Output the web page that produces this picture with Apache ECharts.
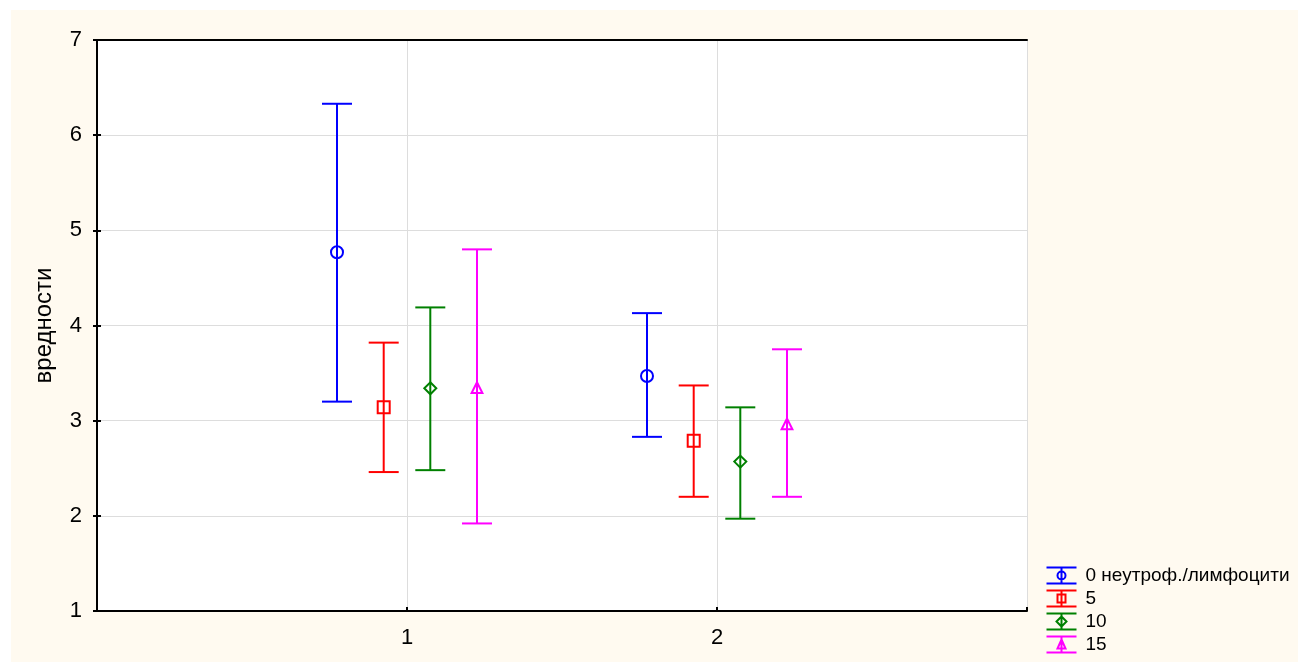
<!DOCTYPE html>
<html>
<head>
<meta charset="utf-8">
<title>вредности</title>
<script src="https://cdn.jsdelivr.net/npm/echarts@6/dist/echarts.min.js"></script>
<style>
  html, body { margin: 0; padding: 0; background: #ffffff; }
  #chart { position: absolute; left: 11px; top: 10px; width: 1287px; height: 652px; }
</style>
</head>
<body>
<div id="chart"></div>
<script>
// Groups on the horizontal axis
const groups = [1, 2];
const groupLabels = ['1', '2'];

// Series names (legend)
const seriesNames = ['0 неутроф./лимфоцити', '5', '10', '15'];

// Means and interval bounds per group, one set of arrays per series
const mean0  = [4.77, 3.47];
const low0   = [3.20, 2.83];
const high0  = [6.33, 4.13];

const mean5  = [3.14, 2.79];
const low5   = [2.46, 2.20];
const high5  = [3.82, 3.37];

const mean10 = [3.34, 2.57];
const low10  = [2.48, 1.97];
const high10 = [4.19, 3.14];

const mean15 = [3.34, 2.96];
const low15  = [1.92, 2.20];
const high15 = [4.80, 3.75];

const yTicks = [1, 2, 3, 4, 5, 6, 7];

// Styling per series: colour, marker shape, horizontal pixel offset from the group position
const colors  = ['#0000ff', '#ff0000', '#008000', '#ff00ff'];
const markers = ['circle', 'square', 'diamond', 'triangle'];
const offsets = [-70, -23.3, 23.3, 70];

const seriesData = [
  [mean0, low0, high0],
  [mean5, low5, high5],
  [mean10, low10, high10],
  [mean15, low15, high15]
];

function markerShape(kind, x, y, r, color) {
  const style = { stroke: color, fill: 'none', lineWidth: 2 };
  if (kind === 'circle') {
    return { type: 'circle', shape: { cx: x, cy: y, r: r }, style: style };
  }
  if (kind === 'square') {
    return { type: 'rect', shape: { x: x - r, y: y - r, width: 2 * r, height: 2 * r }, style: style };
  }
  if (kind === 'diamond') {
    return { type: 'polygon', shape: { points: [[x, y - r], [x + r, y], [x, y + r], [x - r, y]] }, style: style };
  }
  return { type: 'polygon', shape: { points: [[x, y - r], [x + r * 0.9, y + r * 0.8], [x - r * 0.9, y + r * 0.8]] }, style: style };
}

function makeRenderer(idx) {
  const color = colors[idx];
  const offset = offsets[idx];
  const kind = markers[idx];
  return function (params, api) {
    const x = api.coord([api.value(0), api.value(1)])[0] + offset;
    const yMean = api.coord([api.value(0), api.value(1)])[1];
    const yLow = api.coord([api.value(0), api.value(2)])[1];
    const yHigh = api.coord([api.value(0), api.value(3)])[1];
    const cap = 15;
    const ls = { stroke: color, lineWidth: 2 };
    return {
      type: 'group',
      children: [
        { type: 'line', shape: { x1: x, y1: yLow, x2: x, y2: yHigh }, style: ls },
        { type: 'line', shape: { x1: x - cap, y1: yHigh, x2: x + cap, y2: yHigh }, style: ls },
        { type: 'line', shape: { x1: x - cap, y1: yLow, x2: x + cap, y2: yLow }, style: ls },
        markerShape(kind, x, yMean, 6, color)
      ]
    };
  };
}

// Legend icons: whisker with caps and the series marker
const legendIcons = [
  'path://M0,0L30,0M15,0L15,16M0,16L30,16M11,8A4,4,0,1,0,19,8A4,4,0,1,0,11,8',
  'path://M0,0L30,0M15,0L15,16M0,16L30,16M11,4L19,4L19,12L11,12Z',
  'path://M0,0L30,0M15,0L15,16M0,16L30,16M15,3L20,8L15,13L10,8Z',
  'path://M0,0L30,0M15,0L15,16M0,16L30,16M15,3L19,12L11,12Z'
];

const series = seriesData.map(function (arrs, i) {
  return {
    name: seriesNames[i],
    type: 'custom',
    itemStyle: { color: colors[i] },
    renderItem: makeRenderer(i),
    encode: { x: 0, y: [1, 2, 3] },
    data: groups.map(function (g, j) { return [g, arrs[0][j], arrs[1][j], arrs[2][j]]; }),
    z: 5
  };
});

const font = 'Liberation Sans, Arial, Helvetica, sans-serif';

const chart = echarts.init(document.getElementById('chart'), null, { renderer: 'canvas' });
chart.setOption({
  backgroundColor: '#fffaf0',
  animation: false,
  textStyle: { fontFamily: font },
  grid: {
    left: 86, top: 30, right: 271, bottom: 51,
    show: true, backgroundColor: '#ffffff', borderWidth: 0
  },
  legend: {
    orient: 'vertical',
    left: 1033, top: 555,
    padding: 0,
    itemWidth: 30, itemHeight: 16, itemGap: 2,
    selectedMode: false,
    textStyle: { fontFamily: font, fontSize: 19, lineHeight: 19, color: '#000', padding: [0, 0, 0, 4] },
    data: seriesNames.map(function (n, i) {
      return {
        name: n,
        icon: legendIcons[i],
        itemStyle: { color: 'none', borderColor: colors[i], borderWidth: 2 }
      };
    })
  },
  xAxis: [
    {
      type: 'value', min: 0, max: 3, interval: 1, position: 'bottom',
      axisLine: { lineStyle: { color: '#000', width: 2 } },
      axisTick: { inside: true, length: 4, lineStyle: { color: '#000', width: 2 } },
      axisLabel: {
        color: '#000', fontSize: 22, margin: 16, fontFamily: font,
        formatter: function (v) { const k = groups.indexOf(v); return k >= 0 ? groupLabels[k] : ''; }
      },
      splitLine: { show: true, lineStyle: { color: '#dddddd', width: 1 } }
    },
    {
      type: 'value', min: 0, max: 3, interval: 1, position: 'top',
      axisLine: { lineStyle: { color: '#000', width: 2 } },
      axisTick: { show: false },
      axisLabel: { show: false },
      splitLine: { show: false }
    }
  ],
  yAxis: [
    {
      type: 'value', min: yTicks[0], max: yTicks[yTicks.length - 1], interval: 1, position: 'left',
      name: 'вредности', nameLocation: 'middle', nameGap: 41, nameRotate: 90,
      nameTextStyle: { color: '#000', fontSize: 24, fontFamily: font },
      axisLine: { show: true, lineStyle: { color: '#000', width: 2 } },
      axisTick: { show: true, inside: true, length: 4, lineStyle: { color: '#000', width: 2 } },
      axisLabel: { color: '#000', fontSize: 22, margin: 15, fontFamily: font },
      splitLine: { show: true, lineStyle: { color: '#dddddd', width: 1 } }
    },
    {
      type: 'value', min: yTicks[0], max: yTicks[yTicks.length - 1], interval: 1, position: 'right',
      axisLine: { show: true, lineStyle: { color: '#000', width: 2 } },
      axisTick: { show: true, inside: true, length: 4, lineStyle: { color: '#000', width: 2 } },
      axisLabel: { show: false },
      splitLine: { show: false }
    }
  ],
  series: series
});
</script>
</body>
</html>
